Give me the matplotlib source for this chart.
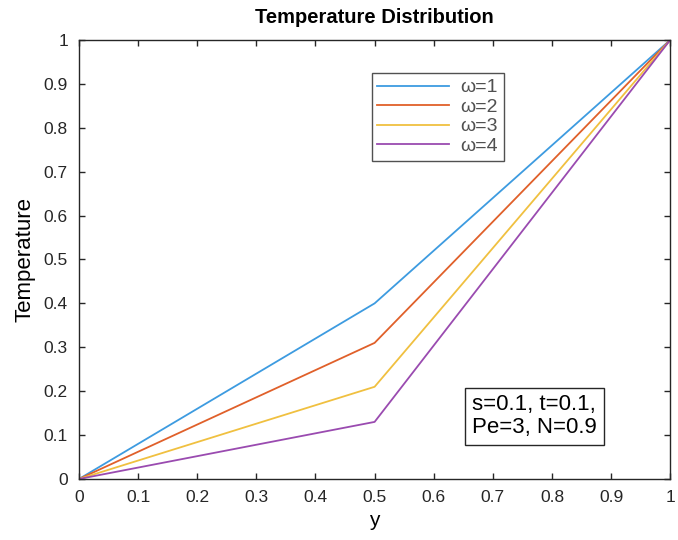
import numpy as np
import matplotlib.pyplot as plt

# --- data ---
y_pts = [0.0, 0.5, 1.0]
temp_w1 = [0.0, 0.40, 1.0]
temp_w2 = [0.0, 0.31, 1.0]
temp_w3 = [0.0, 0.21, 1.0]
temp_w4 = [0.0, 0.13, 1.0]
labels = ["\u03c9=1", "\u03c9=2", "\u03c9=3", "\u03c9=4"]
colors = ["#3d9be0", "#e0602a", "#f0c040", "#9a4bb0"]
ticks = np.round(np.arange(0, 1.01, 0.1), 1)
tick_labels = ["0", "0.1", "0.2", "0.3", "0.4", "0.5", "0.6", "0.7", "0.8", "0.9", "1"]

plt.rcParams["font.family"] = ["Liberation Sans", "DejaVu Sans"]

fig = plt.figure(figsize=(6.78, 5.40), dpi=100)
ax = fig.add_axes([0.1165, 0.113, 0.872, 0.813])

for series, lab, col in zip([temp_w1, temp_w2, temp_w3, temp_w4], labels, colors):
    ax.plot(y_pts, series, "-", color=col, linewidth=1.3, label=lab)

ax.set_xlim(0, 1)
ax.set_ylim(0, 1)
ax.set_xticks(ticks)
ax.set_xticklabels(tick_labels)
ax.set_yticks(ticks)
ax.set_yticklabels(tick_labels)
ax.tick_params(direction="in", top=True, right=True, length=4, width=1,
               labelsize=12.5, colors="#262626", pad=8)
for spine in ax.spines.values():
    spine.set_color("#262626")
    spine.set_linewidth(1.0)

ax.set_title("Temperature Distribution", fontsize=14.5, fontweight="bold", pad=12)
ax.set_xlabel("y", fontsize=15, labelpad=4)
ax.set_ylabel("Temperature", fontsize=16, labelpad=6)

leg = ax.legend(loc="upper left", bbox_to_anchor=(0.495, 0.925), fontsize=14,
                frameon=True, fancybox=False, handlelength=3.7,
                borderpad=0.3, labelspacing=0.1, handletextpad=0.55,
                borderaxespad=0)
leg.get_frame().set_edgecolor("#262626")
leg.get_frame().set_linewidth(1.0)
for t in leg.get_texts():
    t.set_color("#505050")

ax.text(0.665, 0.143, "s=0.1, t=0.1,\nPe=3, N=0.9", transform=ax.transAxes,
        fontsize=16, va="center", ha="left", linespacing=1.12,
        bbox=dict(boxstyle="square,pad=0.3", facecolor="white",
                  edgecolor="#262626", linewidth=1.0))

fig.savefig("out.png", dpi=100)
